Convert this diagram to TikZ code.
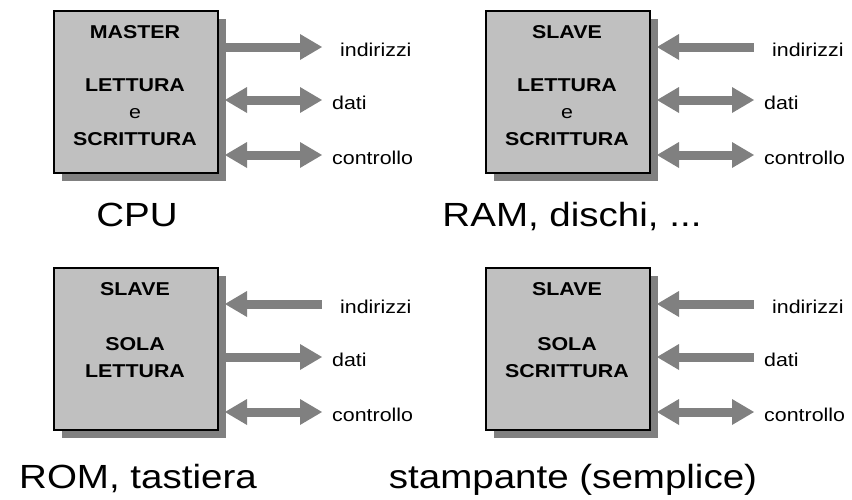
\documentclass[tikz,border=0pt]{standalone}
\usepackage{fontspec}
\setmainfont{Liberation Sans}[FakeStretch=1.15]
\usepackage{xcolor}
\usetikzlibrary{arrows.meta, shadows}

\definecolor{boxgray}{HTML}{C0C0C0}
\definecolor{busgray}{HTML}{808080}

\begin{document}
\begin{tikzpicture}[
    x=1pt, y=-1pt,  % 1 unit = 1 pixel, y verso il basso
    modulo/.style={draw=black, line width=2pt, fill=boxgray, inner sep=0pt,
        minimum width=164pt, minimum height=162pt,
        drop shadow={shadow xshift=8pt, shadow yshift=-8pt, fill=busgray, opacity=1}},
    titolo/.style={font=\fontsize{18.6}{27}\selectfont\bfseries},
    corpo/.style={font=\fontsize{18.6}{27}\selectfont\bfseries, align=center, inner sep=0pt},
    etichetta/.style={font=\fontsize{18.6}{22}\selectfont, inner sep=0pt},
    didascalia/.style={font=\fontsize{33.5}{40}\selectfont, inner sep=0pt},
    punta/.tip={Triangle[length=22pt, width=26pt, line width=0pt]},
    bus/.style={draw=busgray, line width=9pt},
    busout/.style={bus, -punta},
    busin/.style={bus, punta-},
    busboth/.style={bus, punta-punta}
]
    \useasboundingbox (0,0) rectangle (852,499);

    % --- moduli con i tre bus (indirizzi, dati, controllo) ---
    % \B = linea di base dell'ultima riga del testo nel modulo
    \foreach \nome/\L/\T/\tit/\testo/\B/\fa/\fb in {
        cpu/53/10/MASTER/{LETTURA\\{\mdseries e}\\SCRITTURA}/135/busout/busboth,
        ram/485/10/SLAVE/{LETTURA\\{\mdseries e}\\SCRITTURA}/135/busin/busboth,
        rom/53/267/SLAVE/{SOLA\\LETTURA}/110/busin/busout,
        stampa/485/267/SLAVE/{SOLA\\SCRITTURA}/110/busin/busin} {
        \node[modulo, anchor=north west] (\nome) at (\L,\T) {};
        \node[titolo, anchor=base] (\nome-t) at (\L+82,\T+28) {\tit};
        \node[corpo, anchor=base] (\nome-c) at (\L+82,\T+\B) {\testo};

        % indirizzi
        \coordinate (\nome-a1) at (\L+172,\T+37);
        \coordinate (\nome-b1) at (\L+269,\T+37);
        \node[etichetta, anchor=base west] (\nome-l1) at (\L+287,\T+46) {indirizzi};
        \draw[\fa] (\nome-a1) -- (\nome-b1);

        % dati
        \coordinate (\nome-a2) at (\L+172,\T+90);
        \coordinate (\nome-b2) at (\L+269,\T+90);
        \node[etichetta, anchor=base west] (\nome-l2) at (\L+279,\T+99) {dati};
        \draw[\fb] (\nome-a2) -- (\nome-b2);

        % controllo
        \coordinate (\nome-a3) at (\L+172,\T+145);
        \coordinate (\nome-b3) at (\L+269,\T+145);
        \node[etichetta, anchor=base west] (\nome-l3) at (\L+279,\T+154) {controllo};
        \draw[busboth] (\nome-a3) -- (\nome-b3);
    }

    % --- didascalie ---
    \node[didascalia, anchor=base] (cap-cpu) at (137,226) {CPU};
    \node[didascalia, anchor=base] (cap-ram) at (572,226) {RAM, dischi, ...};
    \node[didascalia, anchor=base] (cap-rom) at (138,488) {ROM, tastiera};
    \node[didascalia, anchor=base] (cap-stampa) at (573,488) {stampante (semplice)};

\end{tikzpicture}
\end{document}
